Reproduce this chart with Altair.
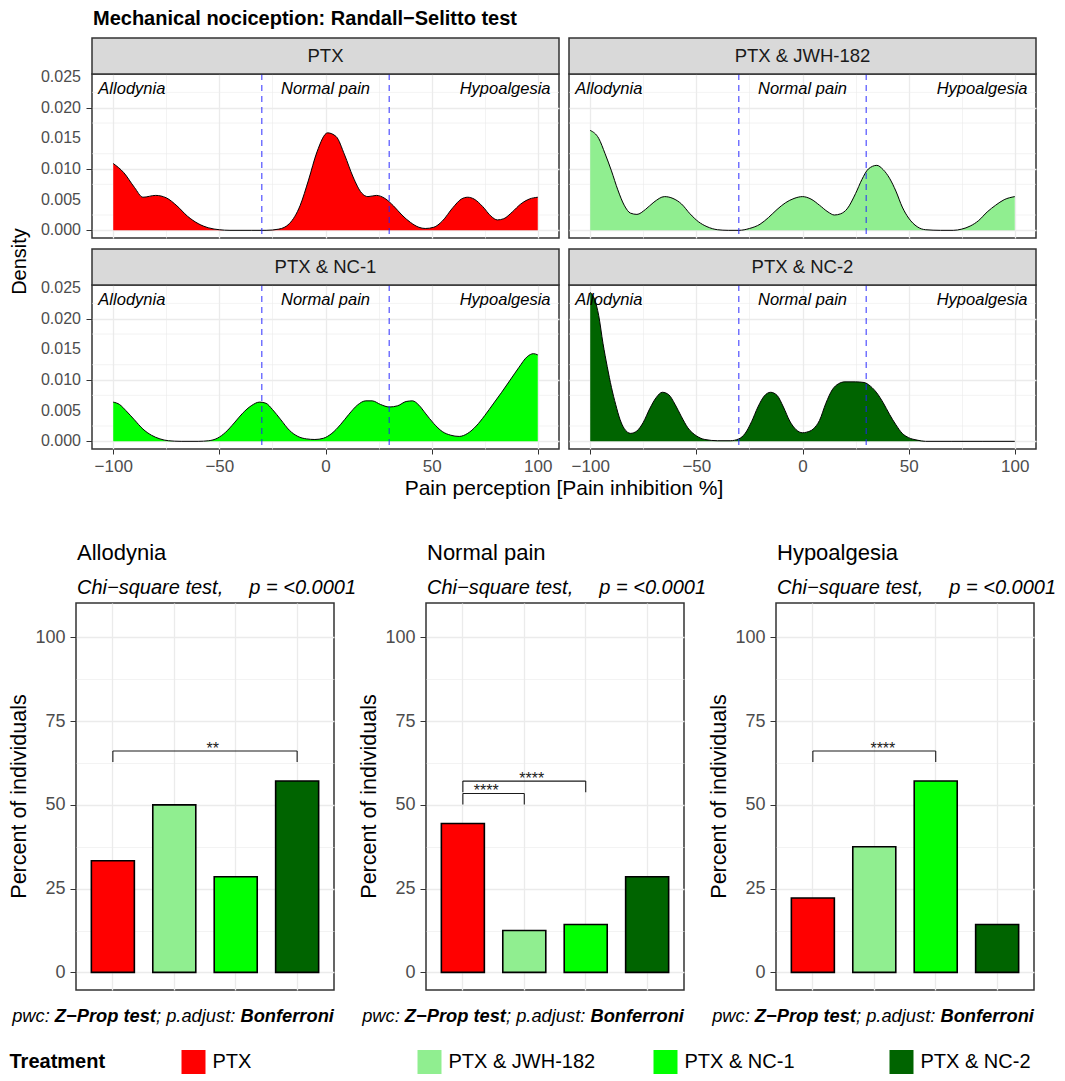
import altair as alt
import pandas as pd

FONT = "Liberation Sans"

# ---------------- data ----------------
treatments = ["PTX", "PTX & JWH-182", "PTX & NC-1", "PTX & NC-2"]
fill_colors = ["#FF0000", "#90EE90", "#00FF00", "#006400"]

ptx_x = [-100, -95, -90, -86, -80, -75, -70, -65, -60, -55, -50, -45, -35, -28, -22, -17, -12, -8, -4, 1,
         5, 9, 13, 17, 20, 24, 28, 32, 36, 40, 44, 47, 51, 55, 60, 64, 67, 70, 74, 78, 81, 84, 88, 92, 96, 100]
ptx_y = [0.0109, 0.0094, 0.0070, 0.0054, 0.0057, 0.0053, 0.0040, 0.0023, 0.0011, 0.0004,
         0.0001, 0.0000, 0.0000, 0.0000, 0.0002, 0.0011, 0.0040, 0.0082, 0.0128, 0.0159,
         0.0153, 0.0123, 0.0087, 0.0061, 0.0055, 0.0057, 0.0052, 0.0040, 0.0025, 0.0013,
         0.0005, 0.0003, 0.0005, 0.0015, 0.0037, 0.0051, 0.0054, 0.0051, 0.0039, 0.0023,
         0.0017, 0.0019, 0.0030, 0.0043, 0.0051, 0.0054]

jwh_x = [-100, -96, -93, -90, -87, -84, -81, -78, -74, -70, -65, -61, -57, -53, -49, -45, -40, -35, -30, -25,
         -20, -16, -12, -8, -4, 0, 4, 8, 12, 15, 18, 21, 25, 28, 31, 35, 38, 41, 44, 47,
         50, 54, 58, 65, 71, 75, 79, 83, 87, 91, 95, 100]
jwh_y = [0.0163, 0.0150, 0.0125, 0.0097, 0.0066, 0.0041, 0.0028, 0.0026, 0.0034, 0.0046,
         0.0055, 0.0052, 0.0043, 0.0027, 0.0014, 0.0006, 0.0001, 0.0000, 0.0000, 0.0003,
         0.0010, 0.0021, 0.0034, 0.0045, 0.0052, 0.0055, 0.0051, 0.0041, 0.0030, 0.0025,
         0.0027, 0.0035, 0.0060, 0.0083, 0.0100, 0.0106, 0.0099, 0.0085, 0.0064, 0.0038,
         0.0020, 0.0006, 0.0001, 0.0000, 0.0000, 0.0002, 0.0007, 0.0016, 0.0030, 0.0041,
         0.0050, 0.0055]

nc1_x = [-100, -97, -94, -90, -86, -82, -78, -74, -68, -60, -55, -51, -47, -43, -39, -35, -31, -28, -25, -21,
         -17, -13, -9, -5, -1, 3, 7, 11, 15, 19, 22, 26, 30, 34, 38, 41, 44, 47, 51, 55,
         59, 63, 67, 71, 75, 79, 83, 87, 91, 95, 98, 100]
nc1_y = [0.0064, 0.0060, 0.0050, 0.0035, 0.0020, 0.0010, 0.0004, 0.0001, 0.0000, 0.0000,
         0.0001, 0.0005, 0.0015, 0.0030, 0.0046, 0.0058, 0.0064, 0.0062, 0.0052, 0.0035,
         0.0018, 0.0008, 0.0004, 0.0003, 0.0005, 0.0013, 0.0027, 0.0044, 0.0059, 0.0066,
         0.0066, 0.0060, 0.0056, 0.0058, 0.0065, 0.0066, 0.0059, 0.0046, 0.0029, 0.0016,
         0.0010, 0.0008, 0.0013, 0.0025, 0.0042, 0.0061, 0.0080, 0.0100, 0.0120, 0.0138,
         0.0143, 0.0141]

nc2_x = [-100, -98, -96, -94, -92, -90, -88, -86, -84, -81, -78, -75, -72, -69, -66, -63, -60, -57, -54, -50,
         -46, -40, -34, -30, -27, -24, -21, -18, -15, -12, -9, -6, -3, 0, 2, 5, 8, 11, 14, 17,
         20, 25, 29, 32, 35, 38, 41, 44, 47, 50, 54, 58, 70, 85, 100]
nc2_y = [0.0243, 0.0232, 0.0205, 0.0160, 0.0122, 0.0088, 0.0060, 0.0036, 0.0021, 0.0013,
         0.0017, 0.0031, 0.0053, 0.0071, 0.0080, 0.0076, 0.0060, 0.0040, 0.0022, 0.0009,
         0.0003, 0.0001, 0.0001, 0.0004, 0.0013, 0.0032, 0.0056, 0.0074, 0.0080, 0.0075,
         0.0056, 0.0033, 0.0019, 0.0014, 0.0015, 0.0020, 0.0034, 0.0062, 0.0084, 0.0094,
         0.0097, 0.0097, 0.0096, 0.0090, 0.0079, 0.0063, 0.0044, 0.0027, 0.0013, 0.0006,
         0.0002, 0.0000, 0.0000, 0.0000, 0.0000]

thresholds = [-30, 30]
region_labels = ["Allodynia", "Normal pain", "Hypoalgesia"]
dens_x_ticks = [-100, -75, -50, -25, 0, 25, 50, 75, 100]
dens_y_ticks = [0, 0.005, 0.01, 0.015, 0.02, 0.025]
dens_y_minor = [0.0025, 0.0075, 0.0125, 0.0175, 0.0225]

categories = ["Allodynia", "Normal pain", "Hypoalgesia"]
pct_ptx = [33.33, 44.44, 22.22]
pct_jwh = [50.0, 12.5, 37.5]
pct_nc1 = [28.57, 14.29, 57.14]
pct_nc2 = [57.14, 28.57, 14.29]
bar_y_ticks = [0, 12.5, 25, 37.5, 50, 62.5, 75, 87.5, 100]

# significance brackets: panel, group1, group2, bracket height, label
brackets = [
    ("Allodynia", "PTX", "PTX & NC-2", 66.1, "**"),
    ("Normal pain", "PTX", "PTX & JWH-182", 53.4, "****"),
    ("Normal pain", "PTX", "PTX & NC-1", 57.1, "****"),
    ("Hypoalgesia", "PTX", "PTX & NC-1", 66.1, "****"),
]
bracket_label_dx = [99.8, 23.4, 68.9, 70.0]

one = pd.DataFrame({"k": [0]})

# ---------------- helpers ----------------
HELV = {' ': 278, 'a': 556, 'b': 556, 'c': 500, 'd': 556, 'e': 556, 'f': 278, 'g': 556, 'h': 556, 'i': 222,
        'j': 222, 'k': 500, 'l': 222, 'm': 833, 'n': 556, 'o': 556, 'p': 556, 'q': 556, 'r': 333, 's': 500,
        't': 278, 'u': 556, 'v': 500, 'w': 722, 'x': 500, 'y': 500, 'z': 500, ':': 278, ';': 278, '.': 278,
        ',': 278, '\u2212': 584, '-': 333, 'P': 667, 'Z': 611, 'B': 667}
HELV_B = {' ': 278, 'a': 556, 'b': 611, 'c': 556, 'd': 611, 'e': 556, 'f': 333, 'g': 611, 'h': 611, 'i': 278,
          'j': 278, 'k': 556, 'l': 278, 'm': 889, 'n': 611, 'o': 611, 'p': 611, 'q': 611, 'r': 389, 's': 556,
          't': 333, 'u': 611, 'v': 556, 'w': 778, 'x': 556, 'y': 556, 'z': 500, ':': 333, ';': 333, '.': 278,
          ',': 278, '\u2212': 584, '-': 333, 'P': 667, 'Z': 611, 'B': 722}


def tw(s, bold, size):
    t = HELV_B if bold else HELV
    return sum(t.get(c, 556) for c in s) * size / 1000.0


DW, DH = 467, 164
STRIP = 36
dens_xdom = [-110, 110]
dens_ydom = [-0.00125, 0.0255]


def dens_axis_x(show):
    return alt.Axis(values=dens_x_ticks, title=None, domain=False, labels=show, ticks=show,
                    labelExpr="datum.value % 50 == 0 ? datum.label : ''",
                    tickOpacity={"condition": {"test": "datum.value % 50 == 0", "value": 1}, "value": 0},
                    tickSize=5, tickColor="#333333", tickWidth=1, labelPadding=4, labelFontSize=17,
                    labelColor="#4D4D4D", labelFlush=False, labelOverlap=False,
                    grid=True, gridColor="#EBEBEB",
                    gridWidth={"condition": {"test": "datum.value % 50 == 0", "value": 1.3}, "value": 0.6})


def dens_axis_y(show):
    return alt.Axis(values=dens_y_ticks, title=None, domain=False, labels=False, ticks=show,
                    tickSize=6, tickColor="#333333", tickWidth=1,
                    grid=True, gridColor="#EBEBEB", gridWidth=1.3)


def density_panel(name, xs, ys, color, show_x, show_y, extras):
    df = pd.DataFrame({"x": xs, "density": ys})
    xsc = alt.Scale(domain=dens_xdom, nice=False, zero=False)
    ysc = alt.Scale(domain=dens_ydom, nice=False, zero=False)
    X = alt.X("x:Q", scale=xsc, axis=dens_axis_x(show_x))
    Y = alt.Y("density:Q", scale=ysc, axis=dens_axis_y(show_y))
    minor = alt.Chart(pd.DataFrame({"minor": dens_y_minor})).mark_rule(color="#EBEBEB", strokeWidth=0.6).encode(
        y=alt.Y("minor:Q", scale=ysc, axis=dens_axis_y(show_y)))
    base = alt.Chart(df).encode(x=X, y=Y)
    area = base.mark_area(color=color, opacity=1, interpolate="monotone").encode(y2=alt.datum(0))
    line = base.mark_line(color="black", strokeWidth=1, interpolate="monotone")
    rules = alt.Chart(pd.DataFrame({"threshold": thresholds})).mark_rule(
        color="#2020FF", strokeDash=[6, 5], strokeWidth=1.1, opacity=0.85
    ).encode(x=alt.X("threshold:Q", scale=xsc, axis=dens_axis_x(show_x)))
    layers = [minor, area, line, rules]
    if show_y:
        layers.append(alt.Chart(pd.DataFrame({"tick": dens_y_ticks})).mark_text(
            align="right", baseline="middle", fontSize=16, color="#4D4D4D").encode(
            y=alt.Y("tick:Q", scale=ysc, axis=dens_axis_y(show_y)), x=alt.value(-11),
            text=alt.Text("tick:Q", format=".3f")))
    for lab, xv, al in zip(region_labels, [-107, 0, 106], ["left", "center", "right"]):
        layers.append(alt.Chart(one).mark_text(text=lab, align=al, baseline="middle", fontStyle="italic",
                                               fontSize=16.5, color="black")
                      .encode(x=alt.datum(xv), y=alt.datum(0.0231)))
    strip = alt.Chart(one).mark_rect(fill="#D9D9D9", stroke="#333333", strokeWidth=1.5).encode(
        x=alt.value(0), x2=alt.value(DW), y=alt.value(-STRIP), y2=alt.value(0))
    strip_t = alt.Chart(one).mark_text(text=name, fontSize=18.5, color="#1A1A1A", baseline="middle").encode(
        x=alt.value(DW / 2), y=alt.value(-STRIP / 2))
    layers += [strip, strip_t] + extras
    return alt.layer(*layers).properties(width=DW, height=DH)


def spacer():
    return alt.Chart(one).mark_point(opacity=0).encode(x=alt.value(0), y=alt.value(0)).properties(
        width=6, height=DH, view=alt.ViewBackground(stroke="transparent"))


title_mark = alt.Chart(one).mark_text(
    text="Mechanical nociception: Randall\u2212Selitto test", align="left", baseline="alphabetic",
    fontWeight="bold", fontSize=20, color="black").encode(x=alt.value(1), y=alt.value(-49))
density_title = alt.Chart(one).mark_text(text="Density", angle=270, fontSize=20, color="black",
                                         baseline="middle").encode(x=alt.value(-72), y=alt.value(187.5))
xtitle = alt.Chart(one).mark_text(text="Pain perception [Pain inhibition %]", fontSize=21, color="black",
                                  baseline="middle").encode(x=alt.value(472), y=alt.value(204))

P1 = density_panel("PTX", ptx_x, ptx_y, fill_colors[0], False, True, [title_mark, density_title])
P2 = density_panel("PTX & JWH-182", jwh_x, jwh_y, fill_colors[1], False, False, [])
P3 = density_panel("PTX & NC-1", nc1_x, nc1_y, fill_colors[2], True, True, [xtitle])
P4 = density_panel("PTX & NC-2", nc2_x, nc2_y, fill_colors[3], True, False, [])

density = alt.concat(spacer(), P1, P2, spacer(), P3, P4, columns=3,
                     spacing=alt.RowColnumber(row=47, column=10), bounds="flush")

# ---------------- bar panels ----------------
BW, BH = 258, 387
color_scale = alt.Scale(domain=treatments, range=fill_colors)
caption_parts = [("pwc: ", False), ("Z\u2212Prop test", True), ("; p.adjust: ", False), ("Bonferroni", True)]
CAP_FS = 18.3


def bar_panel(i, cat):
    df = pd.DataFrame({"treatment": treatments,
                       "percent": [pct_ptx[i], pct_jwh[i], pct_nc1[i], pct_nc2[i]]})
    xsc = alt.Scale(domain=treatments, paddingInner=0.3, paddingOuter=0.25)
    X = alt.X("treatment:N", scale=xsc,
              axis=alt.Axis(labels=False, ticks=False, domain=False, title=None, grid=True,
                            gridColor="#EBEBEB", gridWidth=1.3))
    Y = alt.Y("percent:Q", scale=alt.Scale(domain=[-5.25, 110.25], nice=False, zero=False),
              axis=alt.Axis(values=bar_y_ticks, title=None, domain=False,
                            labelExpr="datum.value % 25 == 0 ? datum.label : ''",
                            tickOpacity={"condition": {"test": "datum.value % 25 == 0", "value": 1}, "value": 0},
                            tickSize=6, tickColor="#333333", labelPadding=5, labelFontSize=18,
                            labelColor="#4D4D4D", labelFlush=False, labelOverlap=False,
                            grid=True, gridColor="#EBEBEB",
                            gridWidth={"condition": {"test": "datum.value % 25 == 0", "value": 1.3},
                                       "value": 0.6}))
    bars = alt.Chart(df).mark_bar(stroke="black", strokeWidth=1.6, opacity=1).encode(
        x=X, y=Y, y2=alt.datum(0),
        color=alt.Color("treatment:N", scale=color_scale, legend=None))
    layers = [bars]
    for (panel, g1, g2, yv, lab), ldx in zip(brackets, bracket_label_dx):
        if panel != cat:
            continue
        layers.append(alt.Chart(one).mark_rule(color="#1A1A1A", strokeWidth=1.1).encode(
            x=alt.datum(g1), x2=alt.datum(g2), y=alt.datum(yv)))
        for g in (g1, g2):
            layers.append(alt.Chart(one).mark_rule(color="#1A1A1A", strokeWidth=1.1).encode(
                x=alt.datum(g), y=alt.datum(yv), y2=alt.datum(yv - 3.3)))
        layers.append(alt.Chart(one).mark_text(text=lab, fontSize=16, color="#1A1A1A", baseline="alphabetic",
                                               dx=ldx, dy=3).encode(x=alt.datum(g1), y=alt.datum(yv)))
    # titles
    layers.append(alt.Chart(one).mark_text(text=cat, align="left", baseline="middle", fontSize=22,
                                           color="black").encode(x=alt.value(1), y=alt.value(-50)))
    layers.append(alt.Chart(one).mark_text(text="Chi\u2212square test,", align="left", baseline="middle",
                                           fontSize=20, fontStyle="italic", color="black")
                  .encode(x=alt.value(1), y=alt.value(-14.7)))
    layers.append(alt.Chart(one).mark_text(text="p = <0.0001", align="left", baseline="middle",
                                           fontSize=20, fontStyle="italic", color="black")
                  .encode(x=alt.value(173.3), y=alt.value(-14.7)))
    layers.append(alt.Chart(one).mark_text(text="Percent of individuals", angle=270, baseline="middle",
                                           fontSize=21.5, color="black")
                  .encode(x=alt.value(-56), y=alt.value(BH / 2)))
    total = sum(tw(s, b, CAP_FS) for s, b in caption_parts)
    pos = BW - total
    for s, b in caption_parts:
        layers.append(alt.Chart(one).mark_text(text=s.strip(), align="left", baseline="middle",
                                               fontSize=CAP_FS, fontStyle="italic",
                                               fontWeight="bold" if b else "normal", color="black")
                      .encode(x=alt.value(pos), y=alt.value(414.3)))
        pos += tw(s, b, CAP_FS)
    return alt.layer(*layers).properties(width=BW, height=BH)


bars_row = alt.hconcat(*[bar_panel(i, c) for i, c in enumerate(categories)], spacing=92, bounds="flush")

# ---------------- legend ----------------
leg_df = pd.DataFrame({"treatment": treatments})
LX = alt.X("treatment:N", scale=alt.Scale(type="point", domain=treatments, range=[117.5, 825.5], padding=0),
           axis=None)
leg_sq = alt.Chart(leg_df).mark_square(size=24 * 24, opacity=1).encode(
    x=LX, y=alt.value(12), color=alt.Color("treatment:N", scale=color_scale, legend=None))
leg_lab = alt.Chart(leg_df).mark_text(align="left", baseline="middle", dx=19, fontSize=20, color="black").encode(
    x=LX, y=alt.value(12), text="treatment:N")
leg_title = alt.Chart(one).mark_text(text="Treatment", align="left", baseline="middle", fontWeight="bold",
                                     fontSize=20, color="black").encode(x=alt.value(-66.5), y=alt.value(12))
legend = alt.layer(leg_sq, leg_lab, leg_title).properties(
    width=958, height=24, view=alt.ViewBackground(stroke="transparent"))

upper = alt.vconcat(density, bars_row, spacing=41)
chart = alt.vconcat(upper, legend, spacing=22).properties(padding=0).configure(
    font=FONT).configure_view(stroke="#333333", strokeWidth=1.5)

chart.save("out.html", embed_options={"renderer": "svg", "actions": False})
